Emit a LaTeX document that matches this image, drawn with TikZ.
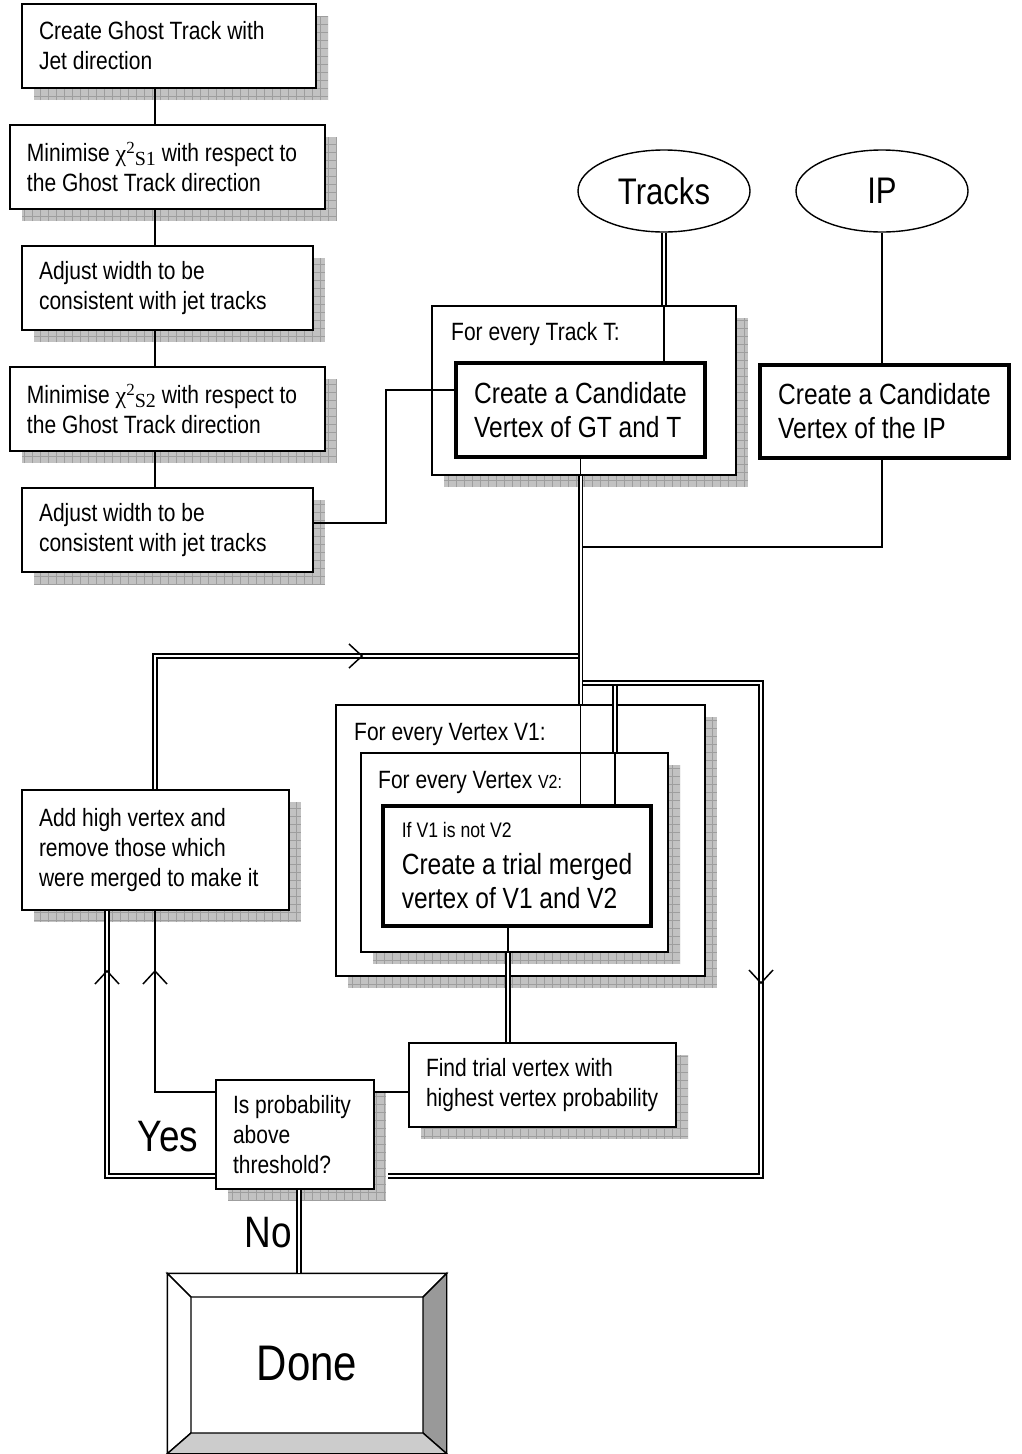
\documentclass[tikz,border=0pt]{standalone}
\usepackage{fontspec}
\setmainfont[FakeStretch=0.84]{Liberation Sans}
\newfontfamily\serifgr{Liberation Serif}
\usetikzlibrary{shapes.geometric,calc}
\newcommand\fsN{\fontsize{25}{30}\selectfont}
\newcommand\fsL{\fontsize{29.2}{34}\selectfont}
\newcommand\fsS{\fontsize{21}{22}\selectfont}
\newcommand\fsV{\fontsize{19}{22}\selectfont}
\newcommand\fsT{\fontsize{37}{40}\selectfont}
\newcommand\fsY{\fontsize{44}{48}\selectfont}
\newcommand\fsD{\fontsize{50}{54}\selectfont}
\newcommand\chisub[1]{{\serifgr\fontsize{24}{30}\selectfont χ}\raisebox{8pt}{\serifgr\fontsize{17}{17}\selectfont 2}\raisebox{-4pt}{\serifgr\fontsize{20}{20}\selectfont #1}}
\definecolor{shfillc}{gray}{0.76}
\definecolor{shgridc}{gray}{0.62}
\definecolor{bevdark}{gray}{0.6}
\definecolor{bevlight}{gray}{0.8}
\tikzset{
 conn/.style={line width=1.5pt},
 dbl/.style={double, double distance=2pt, line width=1.6pt},
 procbox/.style={draw, line width=1.5pt, fill=white, inner xsep=17pt, inner ysep=0pt, align=left, font=\fsN},
 contbox/.style={draw, line width=1.4pt, fill=white, inner sep=0pt},
 thickbox/.style={draw, line width=4pt, fill=white, inner sep=0pt, align=left, font=\fsL},
 shfill/.style={fill=shfillc},
 shgrid/.style={draw=shgridc, line width=0.5pt, step=8pt},
 lbl/.style={anchor=base west, inner sep=0pt, font=\fsN},
 oval/.style={ellipse, draw, line width=1.4pt, minimum width=172pt, minimum height=82pt, font=\fsT, inner sep=0pt},
 bevel/.style={draw, line width=1.4pt, line join=miter},
 bigword/.style={font=\fsY, inner sep=0pt},
 pics/chev/.style={code={\draw[conn] (-13,-12) -- (0,0) -- (-13,12);}},
}
\newcommand\mkshadow[4]{%
 \begin{scope}
 \clip (#1+12,#4+12) rectangle (#3+12,#2+12);
 \fill[shfill] (#1+12,#4+12) rectangle (#3+12,#2+12);
 \draw[shgrid] (#1+12,#4+12) grid (#3+12,#2+12);
 \end{scope}}
\newcommand\procnode[7]{%
 \mkshadow{#2}{#3}{#4}{#5}%
 \pgfmathsetmacro\pw{#4-#2}\pgfmathsetmacro\ph{#5-#3}%
 \pgfmathsetmacro\ptw{#4-#2-34}%
 \pgfmathsetmacro\pcx{(#2+#4)/2}\pgfmathsetmacro\pcy{(#3+#5)/2}%
 \node[#6, minimum width=\pw pt, minimum height=\ph pt, text width=\ptw pt] (#1) at (\pcx,\pcy) {\spaceskip=0pt\xspaceskip=0pt\relax #7};}
\newcommand\plainnode[7]{%
 \pgfmathsetmacro\pw{#4-#2}\pgfmathsetmacro\ph{#5-#3}%
 \pgfmathsetmacro\pcx{(#2+#4)/2}\pgfmathsetmacro\pcy{(#3+#5)/2}%
 \node[#6, minimum width=\pw pt, minimum height=\ph pt] (#1) at (\pcx,\pcy) {#7};}
\begin{document}
\begin{tikzpicture}[x=1pt,y=-1pt]
\useasboundingbox (0,0) rectangle (1021,1454);
% left column
\procnode{b1}{22}{4}{316}{88}{procbox}{Create Ghost Track with\\Jet direction}
\procnode{b2}{10}{125}{325}{209}{procbox}{Minimise \chisub{S1} with respect to\\the Ghost Track direction}
\procnode{b3}{22}{246}{313}{330}{procbox}{Adjust width to be\\consistent with jet tracks}
\procnode{b4}{10}{367}{325}{451}{procbox}{Minimise \chisub{S2} with respect to\\the Ghost Track direction}
\procnode{b5}{22}{488}{313}{572}{procbox}{Adjust width to be\\consistent with jet tracks}
% inputs
\node[oval] (tracks) at (664,191) {Tracks};
\node[oval] (ip) at (882,191) {IP};
% track loop
\procnode{tt}{432}{306}{736}{475}{contbox}{}
\node[lbl] (ttl) at (451,340) {For every Track T:};
\plainnode{cand}{456}{363}{705}{457}{thickbox}{Create a Candidate\\Vertex of GT and T}
\plainnode{ipbox}{760}{365}{1009}{458}{thickbox}{Create a Candidate\\Vertex of the IP}
% vertex loops
\procnode{v1}{336}{705}{705}{976}{contbox}{}
\node[lbl] (v1l) at (354,740) {For every Vertex V1:};
\procnode{v2}{361}{753}{668}{952}{contbox}{}
\node[lbl] (v2l) at (378,788) {For every Vertex {\fsV V2:}};
\plainnode{merge}{383}{806}{651}{926}{thickbox}{{\fsS If V1 is not V2}\\[3pt]Create a trial merged\\vertex of V1 and V2}
\procnode{add}{22}{790}{289}{910}{procbox}{Add high vertex and\\remove those which\\were merged to make it}
\procnode{find}{409}{1043}{676}{1127}{procbox}{Find trial vertex with\\\mbox{highest vertex probability}}
\procnode{dec}{216}{1080}{374}{1189}{procbox}{Is probability\\above\\threshold?}
% done
\node[draw, line width=1.4pt, fill=white, minimum width=278pt, minimum height=179pt, inner sep=0pt, font=\fsD] (done) at (307,1363.5) {Done};
\coordinate (dIa) at (191,1297);
\coordinate (dIb) at (423,1297);
\coordinate (dIc) at (423,1433);
\coordinate (dId) at (191,1433);
\draw[bevel, fill=white] (done.north west) -- (done.north east) -- (dIb) -- (dIa) -- cycle;
\draw[bevel, fill=white] (done.north west) -- (dIa) -- (dId) -- (done.south west) -- cycle;
\draw[bevel, fill=bevdark] (done.north east) -- (done.south east) -- (dIc) -- (dIb) -- cycle;
\draw[bevel, fill=bevlight] (done.south west) -- (dId) -- (dIc) -- (done.south east) -- cycle;
% helper coordinates
\coordinate (sp) at (155,0);
\coordinate (jA) at (386,523);
\coordinate (jB) at (386,390);
\coordinate (yIP) at (0,547);
\coordinate (yTop) at (0,656);
\coordinate (yIn) at (0,683);
\coordinate (xR) at (761,0);
\coordinate (yBot) at (0,1176);
\coordinate (xL) at (107,0);
\coordinate (yDec) at (0,1092);
\coordinate (xV) at (615,0);
\coordinate (xDone) at (299,0);
\coordinate (xM) at (508,0);
% connectors
\draw[conn] (b1.south -| sp) -- (b2.north -| sp);
\draw[conn] (b2.south -| sp) -- (b3.north -| sp);
\draw[conn] (b3.south -| sp) -- (b4.north -| sp);
\draw[conn] (b4.south -| sp) -- (b5.north -| sp);
\draw[conn] (b5.east |- jA) -- (jA) -- (jB) -- (cand.west |- jB);
\draw[dbl] (tracks.south) -- (tracks.south |- tt.north);
\draw[conn] (tracks.south |- tt.north) -- (tracks.south |- cand.north);
\draw[conn] (ip.south) -- (ip.south |- ipbox.north);
\draw[conn] (cand.south) -- (cand.south |- tt.south);
\draw[dbl] (cand.south |- tt.south) -- (cand.south |- v1.north);
\draw[conn] (ipbox.south -| ip.south) -- (ip.south |- yIP) -- ([xshift=2.6pt]cand.south |- yIP);
\draw[dbl] (add.north -| sp) -- (sp |- yTop) -- ([xshift=-2.6pt]cand.south |- yTop);
\pic at (362,656) {chev};
\draw[dbl] ([xshift=2.6pt]cand.south |- yIn) -- (xR |- yIn) -- (xR |- yBot) -- ([xshift=13pt]dec.east |- yBot);
\draw[dbl] (dec.west |- yBot) -- (xL |- yBot) -- (xL |- add.south);
\pic[rotate=-90] at (761,983) {chev};
\pic[rotate=90] at (107,971) {chev};
\draw[dbl] ([yshift=-2.6pt]xV |- yIn) -- (xV |- v2.north);
\draw[conn] (cand.south |- v1.north) -- (cand.south |- merge.north);
\draw[conn] (xV |- v2.north) -- (xV |- merge.north);
\draw[conn] (merge.south -| xM) -- (xM |- v2.south);
\draw[dbl] (xM |- v2.south) -- (xM |- find.north);
\draw[conn] (find.west |- yDec) -- (dec.east |- yDec);
\draw[conn] (dec.west |- yDec) -- (sp |- yDec) -- (sp |- add.south);
\pic[rotate=90] at (155,971) {chev};
\draw[dbl] (dec.south -| xDone) -- (xDone |- done.north);
% labels
\node[bigword] (yes) at (168,1137) {Yes};
\node[bigword] (no) at (268,1233) {No};
\end{tikzpicture}
\end{document}
